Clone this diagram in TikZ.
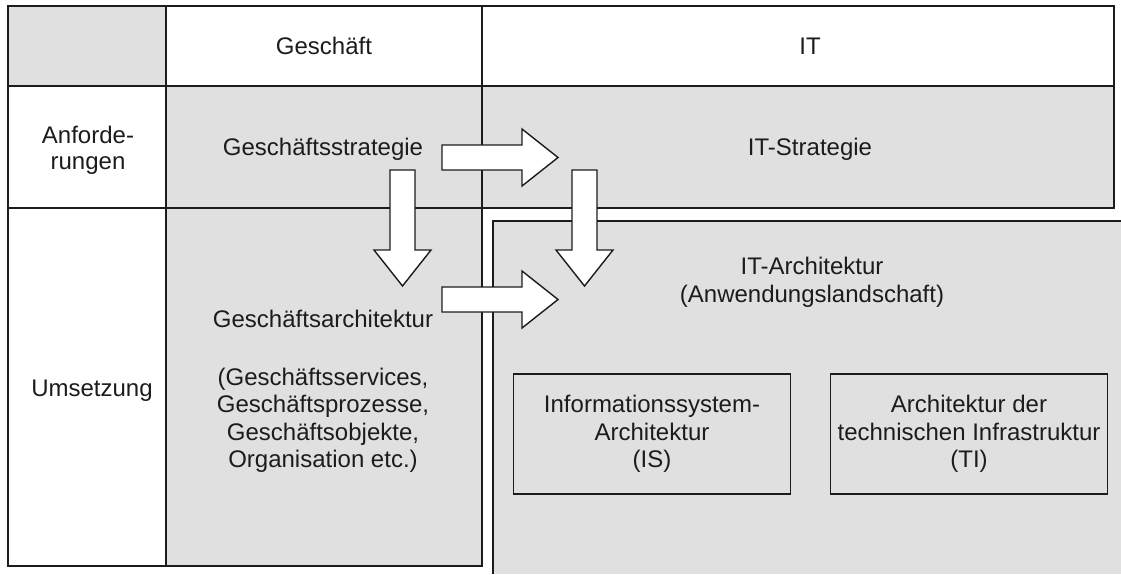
\documentclass[tikz,border=0pt]{standalone}
\usepackage{fontspec}
\setmainfont{Liberation Sans}
\usetikzlibrary{calc}

\definecolor{cellgray}{RGB}{224,224,224}
\definecolor{ink}{RGB}{28,28,28}

% Block arrow from #1 to #2 (tip); #3 names the head base point
\newcommand\drawblockarrow[3]{%
  \coordinate (#3b) at ($(#2)!36pt!(#1)$);
  \draw[blockstyle]
    ($(#1)!12.5pt!90:(#2)$) -- ($(#3b)!12.5pt!90:(#2)$) --
    ($(#3b)!28.5pt!90:(#2)$) -- (#2) --
    ($(#3b)!28.5pt!-90:(#2)$) -- ($(#3b)!12.5pt!-90:(#2)$) --
    ($(#1)!12.5pt!-90:(#2)$) -- cycle;
}

\begin{document}
\begin{tikzpicture}[x=1pt,y=-1pt,
  grid/.style={draw=ink, line width=1.4pt},
  label/.style={text=ink, font=\fontsize{24}{27.5}\selectfont, align=center,
    inner sep=0pt},
  oneline/.style={label, text height=17pt, text depth=5pt},
  innerbox/.style={label, draw=ink, line width=1.4pt,
    minimum width=277pt, minimum height=120pt},
  blockstyle/.style={draw=ink, fill=white, line width=1.4pt, line join=miter}]

\useasboundingbox (0,0) rectangle (1121,574);
\fill[white] (0,0) rectangle (1121,574);

% shaded cells
\fill[cellgray] (8,6) rectangle (166,86);
\fill[cellgray] (166,86) rectangle (1114,208);
\fill[cellgray] (166,208) rectangle (482,566);
\fill[cellgray] (493,221) rectangle (1121,574);

% table rules
\draw[grid] (8,6) rectangle (1114,208);
\draw[grid] (8,86) -- (1114,86);
\draw[grid] (8,208) -- (8,566) -- (482,566) -- (482,6);
\draw[grid] (166,6) -- (166,566);
\draw[grid] (493,574) -- (493,221) -- (1121,221);

% header and row labels
\node[oneline] (geschaeft) at (324,48) {Geschäft};
\node[oneline] (it) at (810,48) {IT};
\node[label, font=\fontsize{24}{26}\selectfont] (anf) at (88,150) {Anforde-\\rungen};
\node[oneline] (ums) at (92,390.5) {Umsetzung};

% cell contents
\node[oneline] (gstrat) at (323,149.5) {Geschäftsstrategie};
\node[oneline] (itstrat) at (810,149.5) {IT-Strategie};
\node[label] (garch) at (323,391.5) {Geschäftsarchitektur\\[30pt](Geschäftsservices,\\Geschäftsprozesse,\\Geschäftsobjekte,\\Organisation etc.)};
\node[label] (itarch) at (812,282.5) {IT-Architektur\\(Anwendungslandschaft)};
\node[innerbox] (is) at (652,434) {Informationssystem-\\Architektur\\(IS)};
\node[innerbox] (ti) at (969,434) {Architektur der\\technischen Infrastruktur\\(TI)};

% block arrows
\coordinate (a1s) at (442,157.5);
\coordinate (a1t) at (558,157.5);
\coordinate (a2s) at (402.5,170);
\coordinate (a2t) at (402.5,286);
\coordinate (a3s) at (584.5,170);
\coordinate (a3t) at (584.5,286);
\coordinate (a4s) at (442,299.5);
\coordinate (a4t) at (558,299.5);
\drawblockarrow{a1s}{a1t}{a1}
\drawblockarrow{a2s}{a2t}{a2}
\drawblockarrow{a3s}{a3t}{a3}
\drawblockarrow{a4s}{a4t}{a4}
\end{tikzpicture}
\end{document}
